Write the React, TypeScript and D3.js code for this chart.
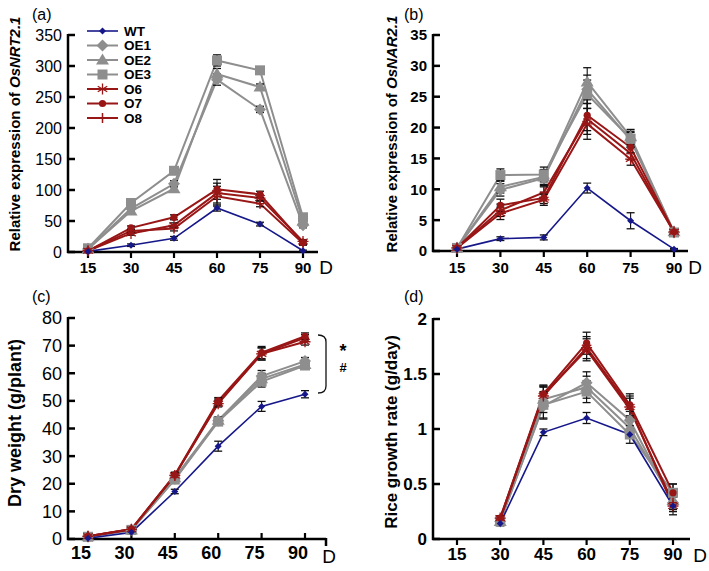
import React from 'react';
import * as d3 from 'd3';

const days = [15, 30, 45, 60, 75, 90];
const seriesNames = ['WT', 'OE1', 'OE2', 'OE3', 'O6', 'O7', 'O8'];

// Panel (a) Relative expression of OsNRT2.1
const aWT = [1, 11, 22, 71, 45, 2];
const aOE1 = [5, 70, 110, 278, 230, 43];
const aOE2 = [5, 66, 102, 287, 266, 50];
const aOE3 = [6, 79, 131, 309, 293, 56];
const aO6 = [2, 30, 43, 95, 87, 17];
const aO7 = [2, 39, 56, 101, 93, 15];
const aO8 = [2, 34, 38, 90, 78, 14];
const aErrWT = [1, 2, 3, 5, 3, 1];
const aErrOE = [2, 4, 5, 9, 5, 4];
const aErrO = [1, 3, 4, 16, 5, 3];

// Panel (b) Relative expression of OsNAR2.1
const bWT = [0.3, 2.0, 2.2, 10.2, 4.9, 0.3];
const bOE1 = [0.5, 9.9, 11.8, 26.2, 18.0, 3.0];
const bOE2 = [0.5, 10.4, 12.0, 27.4, 18.5, 3.1];
const bOE3 = [0.5, 12.3, 12.4, 25.4, 18.2, 3.0];
const bO6 = [0.5, 6.1, 8.3, 20.6, 14.9, 3.1];
const bO7 = [0.5, 7.4, 8.6, 22.0, 16.8, 3.1];
const bO8 = [0.5, 6.6, 9.5, 21.4, 15.8, 3.0];
const bErrWT = [0.1, 0.3, 0.4, 0.8, 1.3, 0.1];
const bErrOE = [0.2, 1.0, 1.2, 2.3, 1.2, 0.3];
const bErrO = [0.2, 1.0, 0.9, 2.5, 1.0, 0.3];

// Panel (c) Dry weight (g/plant)
const cWT = [0.3, 2.4, 17.2, 33.6, 48.0, 52.4];
const cOE1 = [0.8, 3.2, 21.8, 42.8, 59.0, 64.4];
const cOE2 = [0.8, 3.3, 22.2, 43.0, 58.0, 63.2];
const cOE3 = [0.8, 3.3, 21.5, 42.5, 57.0, 62.8];
const cO6 = [1.0, 3.5, 23.0, 49.0, 67.0, 71.4];
const cO7 = [1.0, 3.6, 23.2, 50.0, 67.5, 73.4];
const cO8 = [1.0, 3.5, 23.0, 49.5, 67.0, 72.8];
const cErrWT = [0.3, 0.5, 0.8, 1.8, 1.8, 1.3];
const cErrOE = [0.3, 0.5, 1.0, 1.2, 2.0, 1.3];
const cErrO = [0.3, 0.5, 1.0, 1.2, 2.2, 1.2];

// Panel (d) Rice growth rate (g/day)
const dWT = [null, 0.14, 0.97, 1.10, 0.95, 0.30];
const dOE1 = [null, 0.16, 1.21, 1.42, 1.08, 0.33];
const dOE2 = [null, 0.16, 1.27, 1.38, 1.01, 0.35];
const dOE3 = [null, 0.16, 1.22, 1.34, 0.95, 0.42];
const dO6 = [null, 0.19, 1.30, 1.74, 1.20, 0.30];
const dO7 = [null, 0.19, 1.32, 1.78, 1.22, 0.42];
const dO8 = [null, 0.18, 1.31, 1.72, 1.18, 0.33];
const dErrWT = [0, 0.02, 0.03, 0.05, 0.03, 0.03];
const dErrOE = [0, 0.02, 0.12, 0.1, 0.08, 0.08];
const dErrO = [0, 0.02, 0.08, 0.1, 0.1, 0.08];

const aTicks = [0, 50, 100, 150, 200, 250, 300, 350];
const bTicks = [0, 5, 10, 15, 20, 25, 30, 35];
const cTicks = [0, 10, 20, 30, 40, 50, 60, 70, 80];
const dTicks = [0, 0.5, 1, 1.5, 2];

const NAVY = '#16188a';
const GRAY = '#8e8e8e';
const RED = '#991616';

const styles: Record<string, { color: string; marker: string; width: number }> = {
  WT: { color: NAVY, marker: 'smalldiamond', width: 1.6 },
  OE1: { color: GRAY, marker: 'diamond', width: 2 },
  OE2: { color: GRAY, marker: 'triangle', width: 2 },
  OE3: { color: GRAY, marker: 'square', width: 2 },
  O6: { color: RED, marker: 'asterisk', width: 2 },
  O7: { color: RED, marker: 'circle', width: 2 },
  O8: { color: RED, marker: 'plus', width: 2 },
};

function Marker({ type, x, y, color }: { type: string; x: number; y: number; color: string }) {
  switch (type) {
    case 'smalldiamond':
      return <path d={`M${x},${y - 3.5}L${x + 3.5},${y}L${x},${y + 3.5}L${x - 3.5},${y}Z`} fill={color} />;
    case 'diamond':
      return <path d={`M${x},${y - 6}L${x + 6},${y}L${x},${y + 6}L${x - 6},${y}Z`} fill={color} />;
    case 'triangle':
      return <path d={`M${x},${y - 6.5}L${x + 6.5},${y + 4.5}L${x - 6.5},${y + 4.5}Z`} fill={color} />;
    case 'square':
      return <rect x={x - 5} y={y - 5} width={10} height={10} fill={color} />;
    case 'circle':
      return <circle cx={x} cy={y} r={3.6} fill={color} />;
    case 'asterisk': {
      const r = 5.5;
      const d = [0, 60, 120].map((a) => {
        const t = ((a + 90) * Math.PI) / 180;
        return `M${x - r * Math.cos(t)},${y - r * Math.sin(t)}L${x + r * Math.cos(t)},${y + r * Math.sin(t)}`;
      }).join('') + `M${x - r},${y}L${x + r},${y}`;
      return <path d={d} stroke={color} strokeWidth={1.3} fill="none" />;
    }
    case 'plus':
      return <path d={`M${x},${y - 5}L${x},${y + 5}M${x - 4},${y}L${x + 4},${y}`} stroke={color} strokeWidth={1.5} fill="none" />;
    default:
      return null;
  }
}

type Series = { name: string; values: (number | null)[]; err: number[] };

type PanelProps = {
  label: string;
  labelX: number;
  labelY: number;
  x0: number;
  xEnd: number;
  px0: number;
  px1: number;
  yTop: number;
  yBottom: number;
  yMax: number;
  ticks: number[];
  tickFmt: (v: number) => string;
  yTickFont: { size: number; weight: string };
  xTickFont: { size: number; weight: string };
  xLabelOffset: number;
  xLabelY: number;
  xTickDir: number;
  endHook: boolean;
  dX: number;
  dY: number;
  title: React.ReactNode;
  titleX: number;
  titleY: number;
  titleSize: number;
  series: Series[];
  capW: number;
};

function Panel(p: PanelProps) {
  const x = d3.scalePoint<number>().domain(days).range([p.px0, p.px1]);
  const y = d3.scaleLinear().domain([0, p.yMax]).range([p.yBottom, p.yTop]);
  const line = d3
    .line<{ d: number; v: number | null }>()
    .defined((q) => q.v !== null)
    .x((q) => x(q.d) as number)
    .y((q) => y(q.v as number));
  const drawOrder = ['OE1', 'OE2', 'OE3', 'O6', 'O8', 'O7', 'WT'];
  const ordered = drawOrder.map((n) => p.series.find((s) => s.name === n)!);
  return (
    <g>
      <text x={p.labelX} y={p.labelY} fontSize={16} fontFamily="Liberation Sans, Arial, sans-serif">{p.label}</text>
      <line x1={p.x0} x2={p.x0} y1={p.yTop - 1} y2={p.yBottom + 1} stroke="#000" strokeWidth={2.5} />
      <line x1={p.x0 - 1} x2={p.xEnd} y1={p.yBottom} y2={p.yBottom} stroke="#000" strokeWidth={2.5} />
      {p.endHook && <line x1={p.xEnd} x2={p.xEnd} y1={p.yBottom - 1} y2={p.yBottom + 7} stroke="#000" strokeWidth={2.5} />}
      {p.ticks.map((t) => (
        <g key={t}>
          <line x1={p.x0} x2={p.x0 + 7} y1={y(t)} y2={y(t)} stroke="#000" strokeWidth={2.5} />
          <text
            x={p.x0 - 6}
            y={y(t)}
            dy="0.36em"
            textAnchor="end"
            fontSize={p.yTickFont.size}
            fontWeight={p.yTickFont.weight}
            fontFamily="Liberation Sans, Arial, sans-serif"
          >
            {p.tickFmt(t)}
          </text>
        </g>
      ))}
      {days.map((d) => (
        <g key={d}>
          <line x1={x(d)} x2={x(d)} y1={p.yBottom} y2={p.yBottom + p.xTickDir * 6} stroke="#000" strokeWidth={2.2} />
          <text
            x={(x(d) as number) + p.xLabelOffset}
            y={p.xLabelY}
            textAnchor="middle"
            fontSize={p.xTickFont.size}
            fontWeight={p.xTickFont.weight}
            fontFamily="Liberation Sans, Arial, sans-serif"
          >
            {d}
          </text>
        </g>
      ))}
      <text x={p.dX} y={p.dY} textAnchor="middle" fontSize={19} fontFamily="Liberation Sans, Arial, sans-serif">D</text>
      <text
        transform={`translate(${p.titleX},${p.titleY}) rotate(-90)`}
        textAnchor="middle"
        fontSize={p.titleSize}
        fontWeight="bold"
        fontFamily="Liberation Sans, Arial, sans-serif"
      >
        {p.title}
      </text>
      {ordered.map((s) => (
        <path
          key={s.name + 'l'}
          d={line(days.map((d, i) => ({ d, v: s.values[i] }))) || ''}
          fill="none"
          stroke={styles[s.name].color}
          strokeWidth={styles[s.name].width}
        />
      ))}
      {ordered.map((s) => (
        <g key={s.name + 'e'}>
          {days.map((d, i) => {
            const v = s.values[i];
            const e = s.err[i];
            if (v === null || !e) return null;
            const cx = x(d) as number;
            const yt = y(v + e);
            const yb = y(Math.max(0, v - e));
            return (
              <g key={d}>
                <line x1={cx} x2={cx} y1={yt} y2={yb} stroke="#111" strokeWidth={1.1} />
                <line x1={cx - p.capW} x2={cx + p.capW} y1={yt} y2={yt} stroke="#111" strokeWidth={1.3} />
                <line x1={cx - p.capW} x2={cx + p.capW} y1={yb} y2={yb} stroke="#111" strokeWidth={1.3} />
              </g>
            );
          })}
        </g>
      ))}
      {ordered.map((s) => (
        <g key={s.name + 'm'}>
          {days.map((d, i) => {
            const v = s.values[i];
            if (v === null) return null;
            return <Marker key={d} type={styles[s.name].marker} x={x(d) as number} y={y(v)} color={styles[s.name].color} />;
          })}
        </g>
      ))}
    </g>
  );
}

function mk(vals: (number | null)[][], errWT: number[], errOE: number[], errO: number[]): Series[] {
  return seriesNames.map((n, i) => ({
    name: n,
    values: vals[i],
    err: n === 'WT' ? errWT : n.startsWith('OE') ? errOE : errO,
  }));
}

export default function App() {
  const font = 'Liberation Sans, Arial, sans-serif';
  const common = { capW: 4 };
  return (
    <svg width={709} height={571} style={{ position: 'absolute', left: 0, top: 0, background: '#fff' }}>
      <rect width={709} height={571} fill="#fff" />
      <Panel
        {...common}
        label="(a)" labelX={32} labelY={20}
        x0={68} xEnd={318} px0={88} px1={303}
        yTop={35} yBottom={252} yMax={350}
        ticks={aTicks} tickFmt={(v) => String(v)}
        yTickFont={{ size: 16, weight: 'normal' }}
        xTickFont={{ size: 15, weight: 'bold' }}
        xLabelOffset={0} xLabelY={273} xTickDir={1} endHook={false}
        dX={326} dY={274}
        title={<>Relative expression of <tspan fontStyle="italic">OsNRT2.1</tspan></>}
        titleX={20} titleY={134} titleSize={15}
        series={mk([aWT, aOE1, aOE2, aOE3, aO6, aO7, aO8], aErrWT, aErrOE, aErrO)}
      />
      <Panel
        {...common}
        label="(b)" labelX={404} labelY={20}
        x0={433} xEnd={688} px0={457} px1={674}
        yTop={35} yBottom={251} yMax={35}
        ticks={bTicks} tickFmt={(v) => String(v)}
        yTickFont={{ size: 15, weight: 'bold' }}
        xTickFont={{ size: 15, weight: 'bold' }}
        xLabelOffset={0} xLabelY={273} xTickDir={1} endHook={false}
        dX={695} dY={274}
        title={<>Relative expression of <tspan fontStyle="italic">OsNAR2.1</tspan></>}
        titleX={397} titleY={134} titleSize={15}
        series={mk([bWT, bOE1, bOE2, bOE3, bO6, bO7, bO8], bErrWT, bErrOE, bErrO)}
      />
      <Panel
        {...common}
        label="(c)" labelX={32} labelY={302}
        x0={68} xEnd={326} px0={88} px1={305}
        yTop={318} yBottom={539} yMax={80}
        ticks={cTicks} tickFmt={(v) => String(v)}
        yTickFont={{ size: 18, weight: 'normal' }}
        xTickFont={{ size: 18, weight: 'bold' }}
        xLabelOffset={-7} xLabelY={559} xTickDir={-1} endHook={true}
        dX={329} dY={563}
        title="Dry weight (g/plant)"
        titleX={21} titleY={423} titleSize={18}
        series={mk([cWT, cOE1, cOE2, cOE3, cO6, cO7, cO8], cErrWT, cErrOE, cErrO)}
      />
      <Panel
        {...common}
        label="(d)" labelX={404} labelY={302}
        x0={433} xEnd={690} px0={457} px1={673}
        yTop={319} yBottom={539} yMax={2}
        ticks={dTicks} tickFmt={(v) => String(v)}
        yTickFont={{ size: 17, weight: 'bold' }}
        xTickFont={{ size: 17, weight: 'bold' }}
        xLabelOffset={0} xLabelY={560} xTickDir={1} endHook={false}
        dX={700} dY={562}
        title="Rice growth rate (g/day)"
        titleX={397} titleY={432} titleSize={17}
        series={mk([dWT, dOE1, dOE2, dOE3, dO6, dO7, dO8], dErrWT, dErrOE, dErrO)}
      />
      <path d="M318,335 Q326,335 326,342 L326,386 Q326,393 318,393" fill="none" stroke="#111" strokeWidth={1.3} />
      <text x={343} y={357} textAnchor="middle" fontSize={18} fontWeight="bold" fontFamily={font}>*</text>
      <text x={343} y={372} textAnchor="middle" fontSize={13} fontWeight="bold" fontFamily={font}>#</text>
      {seriesNames.map((n, i) => {
        const ly = 31 + i * 14.5;
        return (
          <g key={n}>
            <line x1={87} x2={118} y1={ly} y2={ly} stroke={styles[n].color} strokeWidth={styles[n].width} />
            <Marker type={styles[n].marker} x={102.5} y={ly} color={styles[n].color} />
            <text x={124} y={ly} dy="0.36em" fontSize={13.5} fontWeight="bold" fontFamily={font}>{n}</text>
          </g>
        );
      })}
    </svg>
  );
}
